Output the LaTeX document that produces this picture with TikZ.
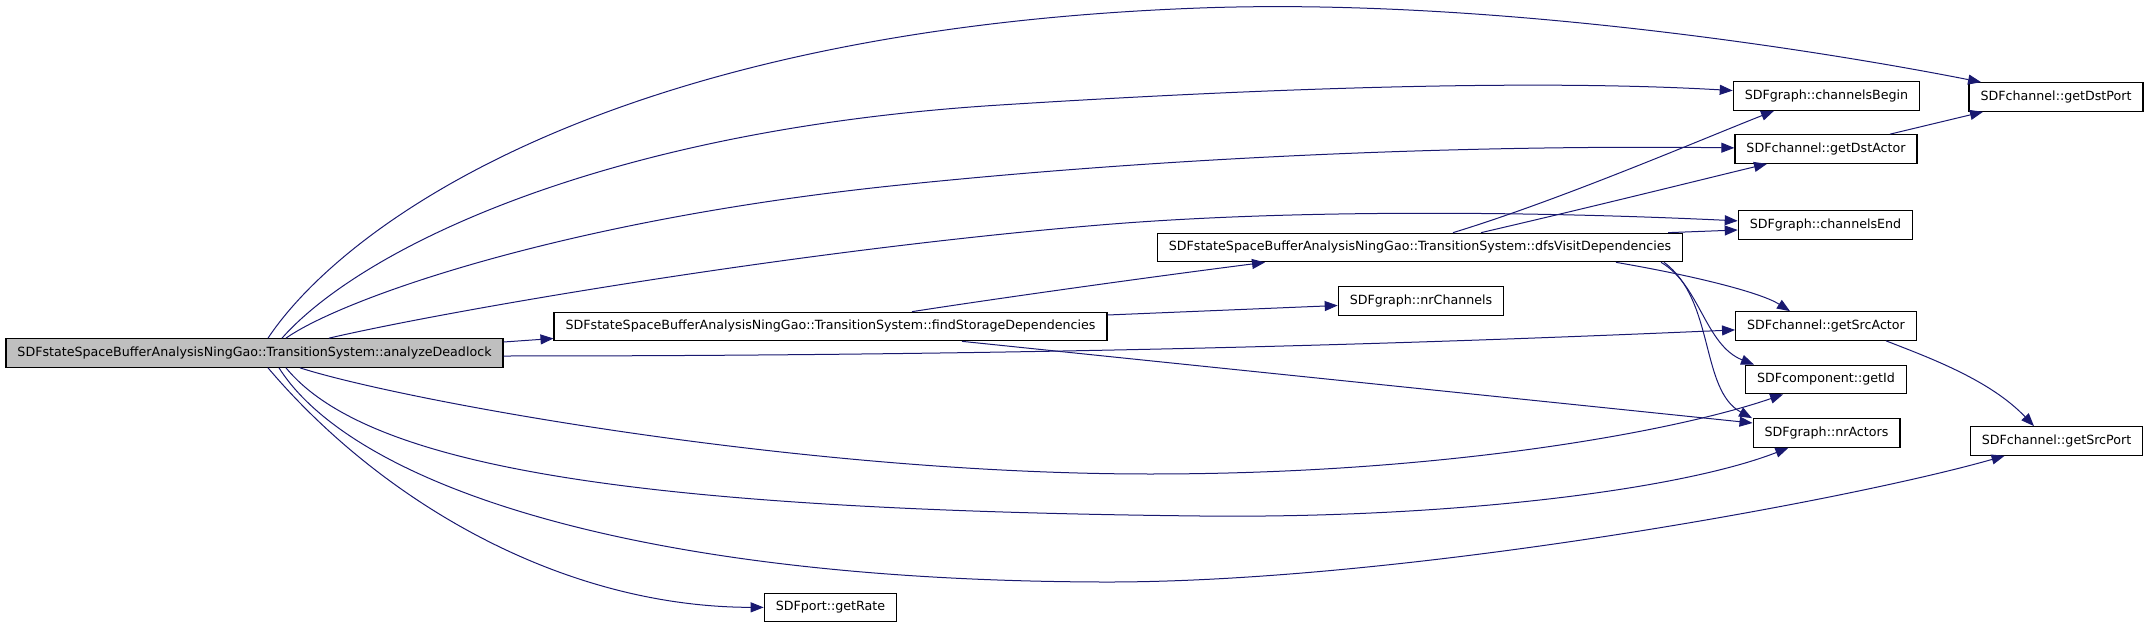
\documentclass[tikz,border=0pt]{standalone}
\usepackage{fontspec}
\setmainfont{DejaVu Sans}
\usepackage{xcolor}
\usetikzlibrary{arrows.meta}
\definecolor{callblue}{RGB}{25,25,112}
\definecolor{rootgray}{RGB}{191,191,191}

\begin{document}
\begin{tikzpicture}[x=1pt,y=-1pt,
        fn/.style={rectangle,draw=black,fill=white,line width=1.2pt,inner xsep=11.5pt,inner ysep=0pt,minimum height=28.5pt,font=\fontsize{12.66}{15}\selectfont},
        call/.style={draw=callblue,line width=1pt,-{Triangle[length=13pt,width=10pt]}}]
            \useasboundingbox (0,0) rectangle (2149,628);

            \node (root) at (254.5,353) [fn,fill=rootgray] {SDFstateSpaceBufferAnalysisNingGao::TransitionSystem::analyzeDeadlock};
            \node (fsd) at (830.5,326.5) [fn] {SDFstateSpaceBufferAnalysisNingGao::TransitionSystem::findStorageDependencies};
            \node (dfs) at (1420,247.5) [fn] {SDFstateSpaceBufferAnalysisNingGao::TransitionSystem::dfsVisitDependencies};
            \node (cb) at (1826.5,96) [fn] {SDFgraph::channelsBegin};
            \node (gdp) at (2056,97) [fn] {SDFchannel::getDstPort};
            \node (gda) at (1826,149) [fn] {SDFchannel::getDstActor};
            \node (ce) at (1825.5,225) [fn] {SDFgraph::channelsEnd};
            \node (nrc) at (1421,301) [fn] {SDFgraph::nrChannels};
            \node (gsa) at (1826,326) [fn] {SDFchannel::getSrcActor};
            \node (gid) at (1826,379.5) [fn] {SDFcomponent::getId};
            \node (nra) at (1826.5,433) [fn] {SDFgraph::nrActors};
            \node (gsp) at (2056.5,441) [fn] {SDFchannel::getSrcPort};
            \node (gr) at (830.5,607.5) [fn] {SDFport::getRate};

            \draw[call] ([xshift=13.5pt]root.north) .. controls (340,230) and (600,30) .. (1200,8) .. controls (1500,-3) and (1844,55) .. (gdp);
            \draw[call] ([xshift=27.5pt]root.north) .. controls (360,250) and (600,130) .. (1000,105) .. controls (1300,86) and (1550,80) .. (cb);
            \draw[call] ([xshift=31.5pt]root.north) .. controls (340,300) and (560,220) .. (900,185) .. controls (1200,154) and (1500,145) .. (gda);
            \draw[call] ([xshift=74.5pt]root.north) .. controls (450,310) and (800,250) .. (1100,225) .. controls (1300,208.3) and (1550,212) .. (ce);
            \draw[call] ([yshift=11pt]root.east) -- ([yshift=-12pt]fsd.west);
            \draw[call] ([yshift=-3pt]root.east) .. controls (1100,356) and (1500,340) .. (gsa);
            \draw[call] ([xshift=45.5pt]root.south) .. controls (400,400) and (800,474) .. (1150,474) .. controls (1450,474) and (1680,430) .. (gid);
            \draw[call] ([xshift=31.5pt]root.south) .. controls (370,470) and (650,510) .. (1200,516) .. controls (1450,518.7) and (1680,490) .. (nra);
            \draw[call] ([xshift=24.5pt]root.south) .. controls (350,480) and (620,580) .. (1100,582) .. controls (1400,583.3) and (1850,500) .. (gsp);
            \draw[call] ([xshift=13.5pt]root.south) .. controls (380,500) and (560,607) .. (gr);

            \draw[call] ([xshift=81.5pt]fsd.north) .. controls (1000,298) and (1150,277) .. ([xshift=-155pt]dfs.south);
            \draw[call] ([yshift=11.5pt]fsd.east) -- ([yshift=-4.5pt]nrc.west);
            \draw[call] ([xshift=131.5pt]fsd.south) -- ([yshift=10pt]nra.west);

            \draw[call] ([xshift=33pt]dfs.north) .. controls (1560,200) and (1700,140) .. ([xshift=-52.5pt]cb.south);
            \draw[call] ([xshift=61pt]dfs.north) .. controls (1600,205) and (1700,180) .. ([xshift=-59pt]gda.south);
            \draw[call] ([xshift=248pt]dfs.north) -- ([yshift=-5pt]ce.west);
            \draw[call] ([xshift=196pt]dfs.south) .. controls (1690,275) and (1760,292) .. ([xshift=-36pt]gsa.north);
            \draw[call] ([xshift=241pt]dfs.south) .. controls (1700,285) and (1705,345) .. ([xshift=-72pt]gid.north);
            \draw[call] ([xshift=244pt]dfs.south) .. controls (1715,300) and (1700,390) .. ([xshift=-74.5pt]nra.north);

            \draw[call] ([xshift=64pt]gda.north) -- ([xshift=-73pt]gdp.south);
            \draw[call] ([xshift=60pt]gsa.south) .. controls (1930,358) and (1990,380) .. ([xshift=-22.5pt]gsp.north);

        \end{tikzpicture}
\end{document}
